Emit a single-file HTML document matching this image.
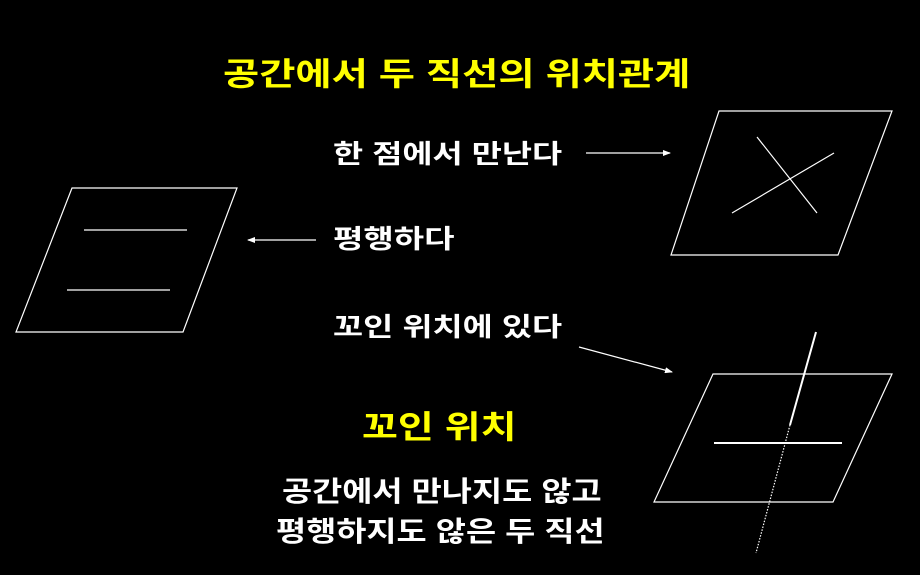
<!DOCTYPE html>
<html><head><meta charset="utf-8"><style>
html,body{margin:0;padding:0;background:#000;}
#c{position:relative;width:920px;height:575px;overflow:hidden;background:#000;font-family:"Liberation Sans","Noto Sans CJK KR","NanumGothic",sans-serif;font-weight:bold;}
.t{position:absolute;white-space:nowrap;line-height:1;transform-origin:0 0;}
</style></head><body><div id="c">
<svg width="920" height="575" style="position:absolute;left:0;top:0">
<defs><marker id="a" markerWidth="8" markerHeight="6" refX="7" refY="3" orient="auto" markerUnits="userSpaceOnUse"><path d="M0,0 L8,3 L0,6 Z" fill="#fff"/></marker></defs>
<g stroke="#fff" fill="none" stroke-width="1.2">
<polygon points="719,111 892,111 838,255 671,255"/>
<line x1="757" y1="137" x2="817" y2="213"/>
<line x1="732" y1="213" x2="834" y2="153"/>
<polygon points="72,188 237,188 183,332 16,332"/>
<line x1="84" y1="230" x2="187" y2="230"/>
<line x1="67" y1="290" x2="170" y2="290"/>
<polygon points="713,374 892,374 833,502 654,502"/>
<line x1="714" y1="443" x2="842" y2="443" stroke-width="2"/>
<line x1="816" y1="332" x2="790" y2="425" stroke-width="2"/>
<line x1="790" y1="425" x2="756" y2="553" stroke-dasharray="1.5,1.5"/>
<line x1="586" y1="153" x2="670" y2="153" marker-end="url(#a)"/>
<line x1="316" y1="240" x2="248" y2="240" marker-end="url(#a)"/>
<line x1="579" y1="347" x2="672" y2="372" marker-end="url(#a)"/>
</g></svg>
<div class="t" style="left:223px;top:58px;font-size:32px;color:#ffff00;transform:scaleX(1.23)">공간에서 두 직선의 위치관계</div>
<div class="t" style="left:333px;top:141px;font-size:26px;color:#fff;transform:scaleX(1.26)">한 점에서 만난다</div>
<div class="t" style="left:333px;top:226px;font-size:26px;color:#fff;transform:scaleX(1.27)">평행하다</div>
<div class="t" style="left:333px;top:314px;font-size:26px;color:#fff;transform:scaleX(1.26)">꼬인 위치에 있다</div>
<div class="t" style="left:362px;top:411px;font-size:32px;color:#ffff00;transform:scaleX(1.22)">꼬인 위치</div>
<div class="t" style="left:282px;top:478px;font-size:28px;color:#fff;transform:scaleX(1.17)">공간에서 만나지도 않고</div>
<div class="t" style="left:276px;top:518px;font-size:28px;color:#fff;transform:scaleX(1.17)">평행하지도 않은 두 직선</div>
</div></body></html>
